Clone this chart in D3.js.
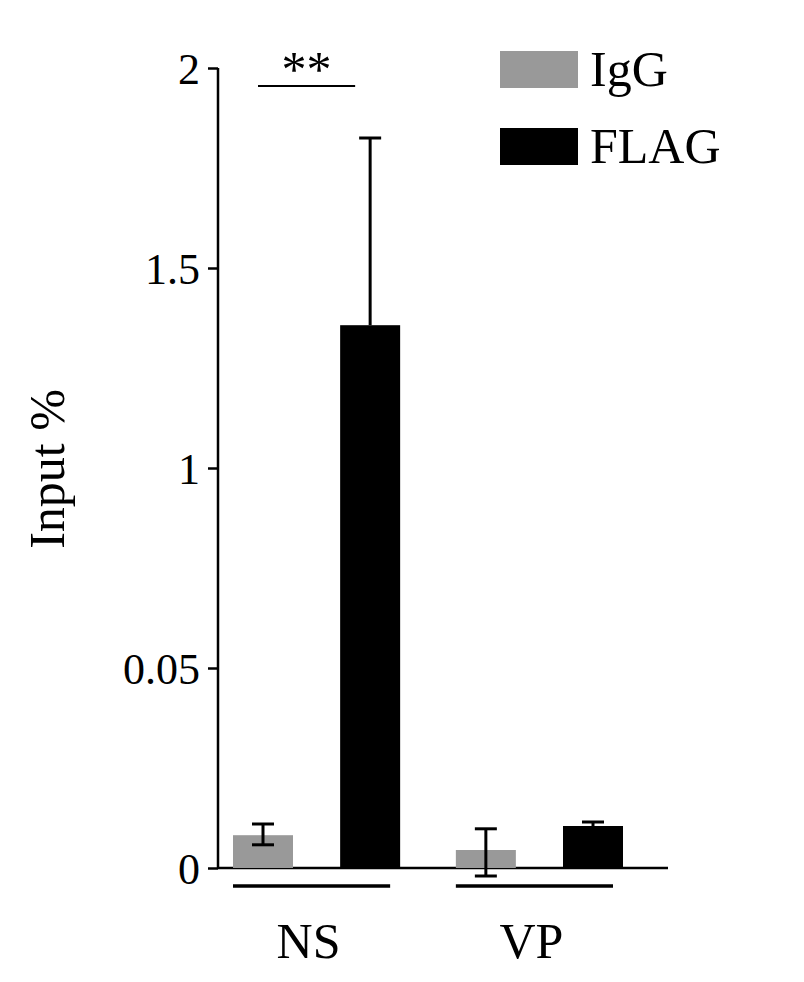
<!DOCTYPE html>
<html><head><meta charset="utf-8">
<script src="https://cdn.jsdelivr.net/npm/d3@7"></script>
<style>body{margin:0;background:#fff}</style>
</head><body><div id="chart"></div>
<script>
const groups = ["NS", "VP"];
const series = ["IgG", "FLAG"];
const colors = ["#999999", "#000000"];
const values = [[0.0082, 1.357], [0.0045, 0.0105]];
const errUp = [[0.011, 1.825], [0.0098, 0.0115]];
const errDown = [[0.0058, null], [-0.002, null]];
const tickVals = [0, 0.05, 1, 1.5, 2];
const tickText = ["0", "0.05", "1", "1.5", "2"];

const font = "'Liberation Serif', 'Times New Roman', serif";
const svg = d3.select("#chart").append("svg").attr("width", 804).attr("height", 982)
  .style("font-family", font);

// broken axis: evenly spaced ticks
const y = d3.scaleLinear().domain(tickVals).range([868, 668, 468, 268, 68]);
const x0 = d3.scaleBand().domain(groups).range([233, 623]).paddingInner(0.25);
const x1 = d3.scaleBand().domain(series).range([0, x0.bandwidth()]).paddingInner(0.44);

const yAxis = svg.append("g").attr("transform", "translate(218,0)")
  .call(d3.axisLeft(y).tickValues(tickVals).tickFormat((d, i) => tickText[i]).tickSize(10).tickPadding(8));
yAxis.attr("font-family", font);
yAxis.selectAll("text").attr("font-size", 44).attr("dy", "0.35em");
yAxis.selectAll("line,path").attr("stroke", "#000").attr("stroke-width", 2.5);
yAxis.select("path").attr("d", "M0,868V68");

svg.append("line").attr("x1", 218).attr("x2", 668).attr("y1", 868).attr("y2", 868)
  .attr("stroke", "#000").attr("stroke-width", 2.5);

groups.forEach((g, gi) => {
  const gx = x0(g);
  series.forEach((s, si) => {
    const bx = gx + x1(s), bw = x1.bandwidth(), cx = bx + bw / 2;
    svg.append("rect").attr("x", bx).attr("width", bw)
      .attr("y", y(values[gi][si])).attr("height", y(0) - y(values[gi][si])).attr("fill", colors[si]);
    const lo = errDown[gi][si] == null ? values[gi][si] : errDown[gi][si];
    const hi = errUp[gi][si];
    svg.append("line").attr("x1", cx).attr("x2", cx).attr("y1", y(lo)).attr("y2", y(hi))
      .attr("stroke", "#000").attr("stroke-width", 3);
    svg.append("line").attr("x1", cx - 11).attr("x2", cx + 11).attr("y1", y(hi)).attr("y2", y(hi))
      .attr("stroke", "#000").attr("stroke-width", 3);
    if (errDown[gi][si] != null)
      svg.append("line").attr("x1", cx - 11).attr("x2", cx + 11).attr("y1", y(lo)).attr("y2", y(lo))
        .attr("stroke", "#000").attr("stroke-width", 3);
  });
  svg.append("line").attr("x1", gx).attr("x2", gx + x0.bandwidth() - 10).attr("y1", 886).attr("y2", 886)
    .attr("stroke", "#000").attr("stroke-width", 3.5);
  svg.append("text").attr("x", gx + x0.bandwidth() / 2 - 8).attr("y", 958).attr("text-anchor", "middle")
    .attr("font-size", 50).text(g);
});

// significance
const a = x0("NS") + x1("IgG") + x1.bandwidth() / 2, b = x0("NS") + x1("FLAG") + x1.bandwidth() / 2;
svg.append("line").attr("x1", a - 5).attr("x2", b - 15).attr("y1", 86).attr("y2", 86).attr("stroke", "#000").attr("stroke-width", 2);
svg.append("text").attr("x", (a + b) / 2 - 10).attr("y", 86).attr("text-anchor", "middle").attr("font-size", 50).text("**");

svg.append("text").attr("transform", "translate(64,469) rotate(-90)").attr("text-anchor", "middle")
  .attr("font-size", 50).text("Input %");

series.forEach((s, i) => {
  svg.append("rect").attr("x", 500).attr("y", 51 + i * 77).attr("width", 78).attr("height", 37).attr("fill", colors[i]);
  svg.append("text").attr("x", 590).attr("y", 86 + i * 77).attr("font-size", 50).text(s);
});
</script></body></html>
